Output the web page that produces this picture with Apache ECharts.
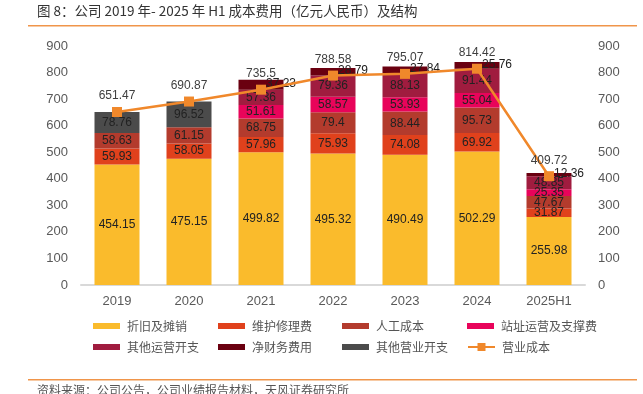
<!DOCTYPE html>
<html><head><meta charset="utf-8">
<script src="https://cdn.jsdelivr.net/npm/echarts@6/dist/echarts.min.js"></script>
<style>html,body{margin:0;padding:0;background:#fff}#c{width:643px;height:394px}</style>
</head><body><div id="c"></div>
<script>
const categories = ['2019','2020','2021','2022','2023','2024','2025H1'];
const depreciation = [454.15, 475.15, 499.82, 495.32, 490.49, 502.29, 255.98];
const maintenance = [59.93, 58.05, 57.96, 75.93, 74.08, 69.92, 31.87];
const labor = [58.63, 61.15, 68.75, 79.4, 88.44, 95.73, 47.67];
const siteOps = [null, null, 51.61, 58.57, 53.93, 55.04, 25.35];
const otherOps = [null, null, 57.36, 79.36, 88.13, 91.44, 48.85];
const netFinance = [null, null, 37.23, 28.79, 27.84, 25.76, 12.36];
const otherOperating = [78.76, 96.52, null, null, null, null, null];
const operatingCost = [651.47, 690.87, 735.5, 788.58, 795.07, 814.42, 409.72];
const axisTicks = [0, 100, 200, 300, 400, 500, 600, 700, 800, 900];

const names = ['折旧及摊销','维护修理费','人工成本','站址运营及支撑费','其他运营开支','净财务费用','其他营业开支','营业成本'];
const colors = ['#FABB2C','#E0411C','#B33B2D','#E8045A','#A01C3F','#6A0010','#4B4B4B','#F0882B'];
const barData = [depreciation, maintenance, labor, siteOps, otherOps, netFinance, otherOperating];

const numFont = 'Liberation Sans, Arial, sans-serif';
const cjkFont = 'Noto Sans CJK SC, sans-serif';

const series = barData.map((d, i) => ({
  name: names[i], type: 'bar', stack: 'cost', data: d, barWidth: 45, yAxisIndex: 0,
  itemStyle: { color: colors[i] },
  label: {
    show: true, position: 'inside', color: '#222', fontSize: 12, fontFamily: numFont,
    offset: i === 5 ? [20, -1] : [0, 0],
    formatter: p => (p.value == null ? '' : String(p.value))
  }
}));
series.push({
  name: names[7], type: 'line', data: operatingCost, yAxisIndex: 0,
  symbol: 'rect', symbolSize: 10, z: 10,
  lineStyle: { color: colors[7], width: 2.5 },
  itemStyle: { color: colors[7] },
  label: { show: true, position: 'top', distance: 5, color: '#404040', fontSize: 12, fontFamily: numFont }
});

const legendX = [93, 218, 342, 467];
const legendY = [320, 341];
const legends = names.map((n, i) => ({
  data: [n], left: legendX[i % 4], top: legendY[Math.floor(i / 4)],
  itemWidth: 27, itemHeight: i === 7 ? 10 : 6, itemGap: 0, padding: 0,
  textStyle: { color: '#555', fontSize: 12, fontFamily: cjkFont, padding: [0, 0, 0, 2] },
  icon: i === 7 ? undefined : 'rect',
  selectedMode: false
}));

const yAxisCommon = {
  type: 'value', min: axisTicks[0], max: axisTicks[axisTicks.length - 1], interval: 100,
  axisLine: { show: false }, axisTick: { show: false }, splitLine: { show: false },
  axisLabel: { color: '#595959', fontSize: 13, fontFamily: numFont, margin: 13 }
};

const option = {
  animation: false,
  grid: { left: 81, right: 58, top: 46, bottom: 109, containLabel: false },
  legend: legends,
  xAxis: {
    type: 'category', data: categories,
    axisLine: { lineStyle: { color: '#d9d9d9', width: 2 } }, axisTick: { show: false },
    axisLabel: { color: '#595959', fontSize: 13, fontFamily: numFont, margin: 10 }
  },
  yAxis: [ Object.assign({}, yAxisCommon, { position: 'left' }),
           Object.assign({}, yAxisCommon, { position: 'right' }) ],
  series: series,
  graphic: [
    { type: 'text', left: 37, top: 4, style: { text: '图 8：公司 2019 年- 2025 年 H1 成本费用（亿元人民币）及结构', fill: '#333', font: '13.5px Noto Sans CJK SC, sans-serif' } },
    { type: 'rect', shape: { x: 28, y: 25, width: 609, height: 1.5 }, style: { fill: '#F0954A' } },
    { type: 'rect', shape: { x: 28, y: 379, width: 609, height: 1.5 }, style: { fill: '#F0954A' } },
    { type: 'text', left: 37, top: 384, style: { text: '资料来源：公司公告，公司业绩报告材料，天风证券研究所', fill: '#555', font: '12px Noto Sans CJK SC, sans-serif' } }
  ]
};
echarts.init(document.getElementById('c')).setOption(option);
</script></body></html>
